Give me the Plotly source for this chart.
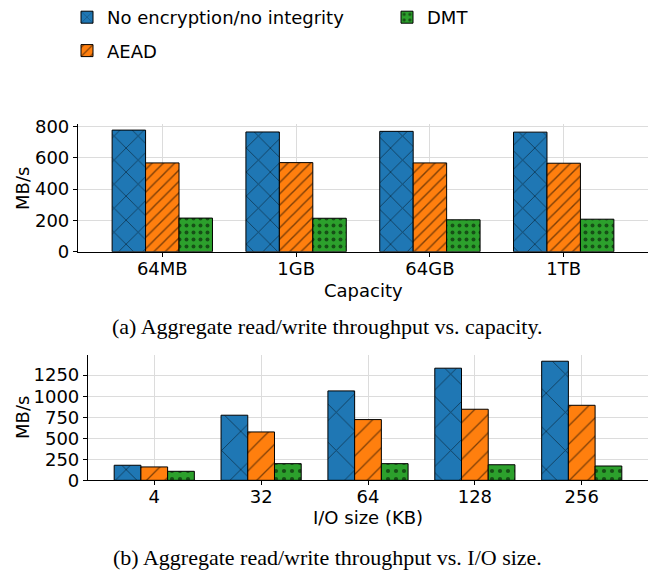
import plotly.graph_objects as go

# ---------------- data ----------------
series_names = ["No encryption/no integrity", "AEAD", "DMT"]
capacity_labels = ["64MB", "1GB", "64GB", "1TB"]
cap_noenc = [778, 766, 770, 765]
cap_aead = [568, 570, 568, 566]
cap_dmt = [215, 214, 204, 208]

iosize_labels = ["4", "32", "64", "128", "256"]
io_noenc = [179, 774, 1063, 1333, 1416]
io_aead = [159, 575, 722, 845, 892]
io_dmt = [107, 198, 198, 185, 170]

# ---------------- style ----------------
W, H = 656, 575
OFF = 8  # page body margin offset
colors = ["#1f77b4", "#ff7f0e", "#2ca02c"]
FONT = "DejaVu Sans"
SERIF = "Liberation Serif"


def px_x(p):
    return (p - OFF) / W


def px_y(p):
    return 1 - (p - OFF) / H


patterns_top = [
    dict(shape="x", size=17, solidity=0.1),
    dict(shape="/", size=8, solidity=0.18),
    dict(shape=".", size=7, solidity=0.25),
]
patterns_bot = [
    dict(shape="x", size=27, solidity=0.065),
    dict(shape="/", size=13, solidity=0.1),
    dict(shape=".", size=8, solidity=0.22),
]

fig = go.Figure()

top_vals = [cap_noenc, cap_aead, cap_dmt]
bot_vals = [io_noenc, io_aead, io_dmt]

for i, name in enumerate(series_names):
    pat = dict(patterns_top[i], fgcolor="black", bgcolor=colors[i], fillmode="overlay")
    fig.add_trace(go.Bar(
        x=capacity_labels, y=top_vals[i], name=name,
        marker=dict(color=colors[i], line=dict(color="black", width=1), pattern=pat),
        xaxis="x", yaxis="y", legendgroup=name, showlegend=True,
        legend="legend2" if i == 2 else "legend",
    ))
for i, name in enumerate(series_names):
    pat = dict(patterns_bot[i], fgcolor="black", bgcolor=colors[i], fillmode="overlay")
    fig.add_trace(go.Bar(
        x=iosize_labels, y=bot_vals[i], name=name,
        marker=dict(color=colors[i], line=dict(color="black", width=1), pattern=pat),
        xaxis="x2", yaxis="y2", legendgroup=name, showlegend=False,
    ))

grid = "#dcdcdc"
axis_common = dict(
    showline=True, linecolor="black", linewidth=1.2, mirror=False,
    showgrid=True, gridcolor=grid, gridwidth=1,
    ticks="outside", ticklen=4, tickcolor="black",
    tickfont=dict(family=FONT, size=18, color="black"),
    zeroline=False,
)

fig.update_layout(
    width=W, height=H,
    margin=dict(l=0, r=0, t=0, b=0, autoexpand=False),
    plot_bgcolor="white", paper_bgcolor="white",
    barmode="group", bargap=0.25, bargroupgap=0,
    font=dict(family=FONT, size=18, color="black"),
    xaxis=dict(axis_common, domain=[px_x(78), px_x(648)], anchor="y",
               range=[-0.63, 3.63], type="category", ticklabelstandoff=-3),
    yaxis=dict(axis_common, domain=[px_y(251.7), px_y(124)], anchor="x",
               range=[0, 817], tickvals=[0, 200, 400, 600, 800]),
    xaxis2=dict(axis_common, domain=[px_x(88), px_x(648)], anchor="y2",
                range=[-0.62, 4.62], type="category", ticklabelstandoff=-4),
    yaxis2=dict(axis_common, domain=[px_y(480.3), px_y(355)], anchor="x2",
                range=[0, 1490], tickvals=[0, 250, 500, 750, 1000, 1250]),
    legend=dict(x=px_x(67), y=px_y(-1), xanchor="left", yanchor="top",
                orientation="v", traceorder="grouped", tracegroupgap=7,
                font=dict(family=FONT, size=18, color="black"),
                bgcolor="rgba(0,0,0,0)"),
    legend2=dict(x=px_x(387), y=px_y(-1), xanchor="left", yanchor="top",
                 orientation="v",
                 font=dict(family=FONT, size=18, color="black"),
                 bgcolor="rgba(0,0,0,0)"),
)

annotations = [
    dict(text="MB/s", x=px_x(22), y=px_y(189), textangle=-90),
    dict(text="MB/s", x=px_x(22), y=px_y(418), textangle=-90),
    dict(text="Capacity", x=px_x(363), y=px_y(290)),
    dict(text="I/O size (KB)", x=px_x(368), y=px_y(517)),
]
for a in annotations:
    fig.add_annotation(xref="paper", yref="paper", showarrow=False,
                       xanchor="center", yanchor="middle",
                       font=dict(family=FONT, size=18, color="black"), **a)

captions = [
    dict(text="(a) Aggregate read/write throughput vs. capacity.", x=px_x(327), y=px_y(326)),
    dict(text="(b) Aggregate read/write throughput vs. I/O size.", x=px_x(327), y=px_y(557)),
]
for c in captions:
    fig.add_annotation(xref="paper", yref="paper", showarrow=False,
                       xanchor="center", yanchor="middle",
                       font=dict(family=SERIF, size=22, color="black"), **c)

fig.write_html("out.html")
